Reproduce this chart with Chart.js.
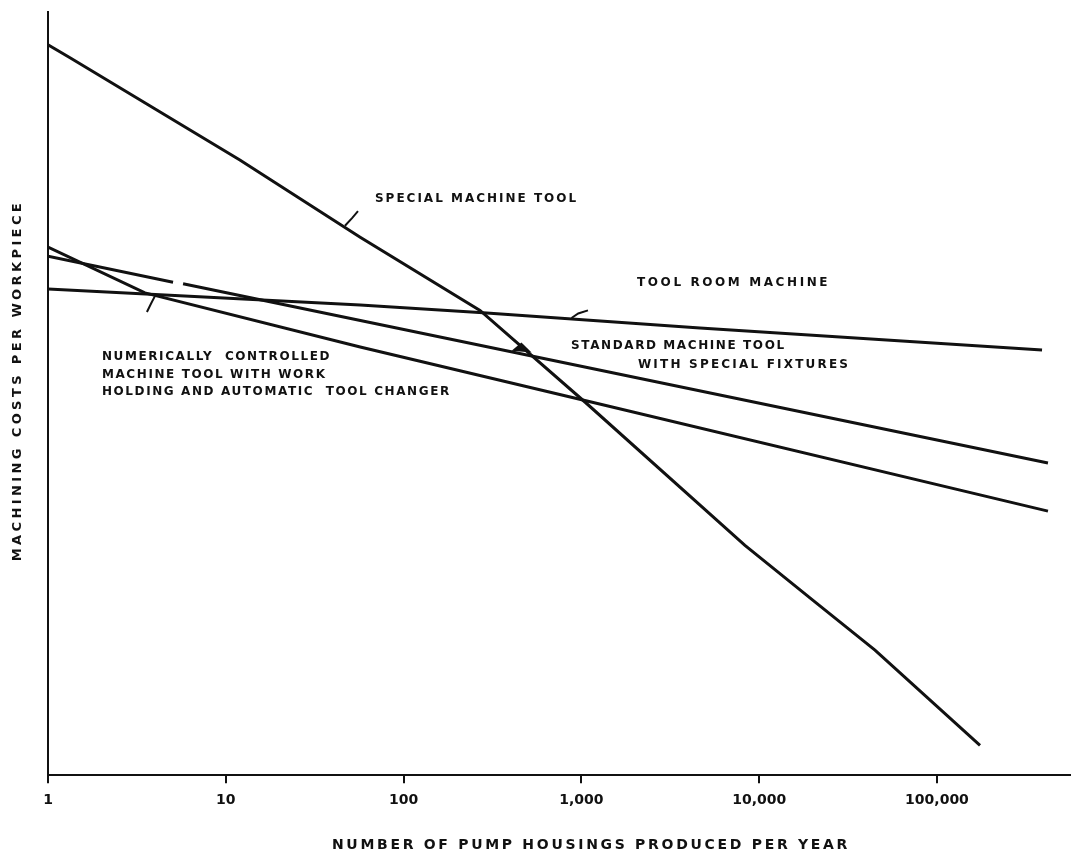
<!DOCTYPE html>
<html><head><meta charset="utf-8">
<script src="https://cdn.jsdelivr.net/npm/chart.js@4/dist/chart.umd.min.js"></script>
<style>html,body{margin:0;padding:0;background:#fff;overflow:hidden}</style>
</head><body>
<canvas id="c" width="1072" height="854"></canvas>
<script>
// ---- data (y is relative machining cost, 0..100) ----
const tickValues = [1, 10, 100, 1000, 10000, 100000];
const tickLabels = ['1', '10', '100', '1,000', '10,000', '100,000'];

const specialX = [1, 1.33, 12, 57, 269, 1047, 8318, 20090, 44800, 174600];
const specialY = [95.7, 94.0, 80.6, 70.5, 60.9, 48.9, 30.1, 22.9, 16.4, 3.9];

const toolRoomX = [1, 57, 280, 4645, 389800];
const toolRoomY = [63.7, 61.6, 60.6, 58.6, 55.7];

const standardX = [1, 5.05, 5.4, 5.75, 421000];
const standardY = [68.0, 64.6, null, 64.4, 40.9];

const ncX = [1, 3.51, 57, 1047, 421000];
const ncY = [69.2, 63.2, 56.1, 49.1, 34.6];

const xTitle = 'NUMBER OF PUMP HOUSINGS PRODUCED PER YEAR';
const yTitle = 'MACHINING COSTS PER WORKPIECE';

const annotations = [
  { lines: ['SPECIAL MACHINE TOOL'], x: 69, y: 75.5, spacing: 2 },
  { lines: ['TOOL ROOM MACHINE'], x: 2055, y: 64.5, spacing: 2.6 },
  { lines: ['STANDARD MACHINE TOOL'], x: 875, y: 56.2, spacing: 1.6 },
  { lines: ['WITH SPECIAL FIXTURES'], x: 2080, y: 53.7, spacing: 2.2 },
  { lines: ['NUMERICALLY  CONTROLLED', 'MACHINE TOOL WITH WORK', 'HOLDING AND AUTOMATIC  TOOL CHANGER'], x: 2.01, y: 54.8, spacing: 1.6 }
];

// leader strokes (data coords)
const leaders = [
  [[46.8, 72.0], [51.3, 73.0], [55.4, 73.9]],
  [[880, 59.9], [960, 60.5], [1089, 60.9]],
  [[4.0, 62.8], [3.8, 61.8], [3.6, 60.7]]
];
// small wedge pointing at the standard machine tool line (data coords)
const wedge = [[405, 55.6], [460, 56.7], [525, 55.4]];

function pts(xs, ys) { return xs.map((x, i) => ({ x: x, y: ys[i] })); }

const lineStyle = { borderColor: '#111', borderWidth: 3, pointRadius: 0, tension: 0, fill: false, spanGaps: false };

const textPlugin = {
  id: 'texts',
  afterDraw(chart) {
    const ctx = chart.ctx, xs = chart.scales.x, ys = chart.scales.y, ca = chart.chartArea;
    ctx.save();
    ctx.fillStyle = '#111';
    ctx.strokeStyle = '#111';
    // annotations
    ctx.font = 'bold 12px "DejaVu Sans"';
    ctx.textBaseline = 'middle';
    ctx.textAlign = 'left';
    annotations.forEach(a => {
      ctx.letterSpacing = a.spacing + 'px';
      const px = xs.getPixelForValue(a.x), py = ys.getPixelForValue(a.y);
      a.lines.forEach((t, i) => ctx.fillText(t, px, py + i * 17.5));
    });
    // leaders
    ctx.lineWidth = 2;
    leaders.forEach(l => {
      ctx.beginPath();
      l.forEach((p, i) => {
        const px = xs.getPixelForValue(p[0]), py = ys.getPixelForValue(p[1]);
        if (i === 0) ctx.moveTo(px, py); else ctx.lineTo(px, py);
      });
      ctx.stroke();
    });
    ctx.beginPath();
    wedge.forEach((p, i) => {
      const px = xs.getPixelForValue(p[0]), py = ys.getPixelForValue(p[1]);
      if (i === 0) ctx.moveTo(px, py); else ctx.lineTo(px, py);
    });
    ctx.closePath();
    ctx.fill();
    // axis titles
    ctx.font = 'bold 14px "DejaVu Sans"';
    ctx.letterSpacing = '2.7px';
    ctx.textAlign = 'center';
    ctx.fillText(xTitle, (ca.left + ca.right) / 2 + 32, 845);
    ctx.save();
    ctx.translate(18, (ca.top + ca.bottom) / 2 - 13);
    ctx.rotate(-Math.PI / 2);
    ctx.font = 'bold 13px "DejaVu Sans"';
    ctx.letterSpacing = '3.4px';
    ctx.fillText(yTitle, 0, 0);
    ctx.restore();
    ctx.restore();
  }
};

new Chart(document.getElementById('c'), {
  type: 'line',
  data: {
    datasets: [
      Object.assign({ label: 'Special machine tool', data: pts(specialX, specialY) }, lineStyle),
      Object.assign({ label: 'Tool room machine', data: pts(toolRoomX, toolRoomY) }, lineStyle),
      Object.assign({ label: 'Standard machine tool with special fixtures', data: pts(standardX, standardY) }, lineStyle),
      Object.assign({ label: 'Numerically controlled machine tool', data: pts(ncX, ncY) }, lineStyle)
    ]
  },
  options: {
    responsive: false,
    animation: false,
    devicePixelRatio: 1,
    layout: { padding: { left: 48, right: 2, top: 12, bottom: 36 } },
    plugins: { legend: { display: false }, tooltip: { enabled: false } },
    scales: {
      x: {
        type: 'logarithmic', min: 1, max: 560000,
        afterBuildTicks: s => { s.ticks = tickValues.map(v => ({ value: v })); },
        ticks: {
          color: '#111', padding: 9, maxRotation: 0, autoSkip: false,
          font: { family: 'DejaVu Sans', weight: 'bold', size: 14 },
          callback: (v, i) => tickLabels[i]
        },
        grid: { drawOnChartArea: false, drawTicks: true, tickLength: 8, color: '#111', lineWidth: 2 },
        border: { display: true, color: '#111', width: 2 }
      },
      y: {
        min: 0, max: 100,
        ticks: { display: false },
        grid: { display: false, drawTicks: false },
        border: { display: true, color: '#111', width: 2 }
      }
    }
  },
  plugins: [textPlugin]
});
</script>
</body></html>
